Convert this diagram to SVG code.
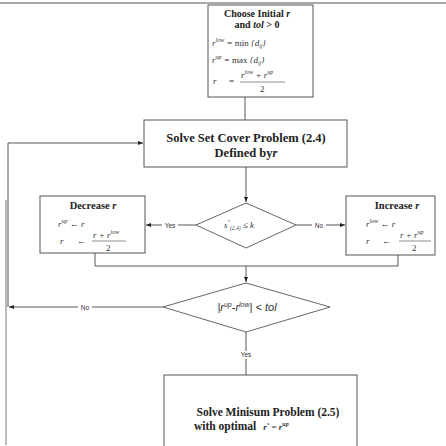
<svg xmlns="http://www.w3.org/2000/svg" width="446" height="446" viewBox="0 0 446 446">
<style>
.box{fill:#fff;stroke:#555;stroke-width:1}
.ln{fill:none;stroke:#444;stroke-width:0.9}
.t{font-family:"Liberation Serif",serif;fill:#222;font-weight:bold}
.i{font-style:italic}
.m{font-family:"Liberation Serif",serif;font-size:9px;font-style:italic;fill:#333}
.n{font-family:"Liberation Serif",serif;font-size:9px;fill:#333}
.s{font-family:"Liberation Sans",sans-serif;font-size:6.5px;fill:#333}
</style>
<defs>
<marker id="ah" markerWidth="6" markerHeight="6" refX="5" refY="3" orient="auto" markerUnits="userSpaceOnUse">
<path d="M0,1 L5,3 L0,5 Z" fill="#222"/>
</marker>
</defs>
<rect width="446" height="446" fill="#fff"/>
<line x1="0" y1="3" x2="446" y2="3" stroke="#555" stroke-width="1.2"/>
<line x1="6" y1="200" x2="6" y2="445" stroke="#bbb" stroke-width="2"/>

<g id="connectors">
<line class="ln" x1="245" y1="97" x2="245" y2="120"/>
<polyline class="ln" points="8,307 8,143 143,143" marker-end="url(#ah)"/>
<line class="ln" x1="246" y1="167" x2="246" y2="202" marker-end="url(#ah)"/>
<line class="ln" x1="196" y1="225" x2="146" y2="225" marker-end="url(#ah)"/>
<line class="ln" x1="296" y1="225" x2="345" y2="225" marker-end="url(#ah)"/>
<polyline class="ln" points="95,253 95,266 398,266 398,255"/>
<line class="ln" x1="246" y1="266" x2="246" y2="282" marker-end="url(#ah)"/>
<line class="ln" x1="163" y1="307" x2="9" y2="307" marker-end="url(#ah)"/>
<line class="ln" x1="246" y1="332" x2="246" y2="375"/>
<rect x="162" y="222" width="16" height="8" fill="#fff"/>
<text class="s" x="170" y="228" text-anchor="middle">Yes</text>
<rect x="312" y="222" width="14" height="8" fill="#fff"/>
<text class="s" x="319" y="228" text-anchor="middle">No</text>
<rect x="78" y="304" width="14" height="8" fill="#fff"/>
<text class="s" x="85" y="310" text-anchor="middle">No</text>
<rect x="237" y="351" width="18" height="8" fill="#fff"/>
<text class="s" x="246" y="357" text-anchor="middle">Yes</text>
</g>

<g id="init">
<rect class="box" x="208" y="5" width="105" height="92"/>
<text class="t" x="257" y="17" text-anchor="middle" style="font-size:10px">Choose Initial <tspan class="i">r</tspan></text>
<text class="t" x="257" y="28" text-anchor="middle" style="font-size:10px">and <tspan class="i">tol</tspan> &gt; 0</text>
<text class="m" x="212" y="46"><tspan>r</tspan><tspan font-size="6" dy="-4">low</tspan><tspan dy="4"> = </tspan><tspan font-style="normal">min</tspan><tspan> {</tspan><tspan>d</tspan><tspan font-size="5.5" dy="2">ij</tspan><tspan dy="-2">}</tspan></text>
<text class="m" x="212" y="63"><tspan>r</tspan><tspan font-size="6" dy="-4">up</tspan><tspan dy="4"> = </tspan><tspan font-style="normal">max</tspan><tspan> {</tspan><tspan>d</tspan><tspan font-size="5.5" dy="2">ij</tspan><tspan dy="-2">}</tspan></text>
<text class="m" x="213" y="84">r</text>
<text class="n" x="229" y="84">=</text>
<line x1="240" y1="82" x2="285" y2="82" stroke="#444" stroke-width="0.6"/>
<text class="m" x="241" y="78">r<tspan font-size="6" dy="-4">low</tspan><tspan dy="4"> + r</tspan><tspan font-size="6" dy="-4">up</tspan></text>
<text class="n" x="260" y="92">2</text>
</g>

<g id="setcover">
<rect class="box" x="144" y="120" width="203" height="47"/>
<text class="t" x="246" y="142" text-anchor="middle" style="font-size:12.5px">Solve Set Cover Problem (2.4)</text>
<text class="t" x="246" y="157" text-anchor="middle" style="font-size:12.5px">Defined by<tspan class="i">r</tspan></text>
</g>

<g id="dec1">
<polygon points="246,203 296,225 246,248 196,225" fill="#fff" stroke="#555" stroke-width="0.9"/>
<text class="m" x="224" y="228">s<tspan font-size="5" dy="-5">*</tspan><tspan font-size="5.5" dy="7">(2.4)</tspan><tspan dy="-2" font-size="9"> ≤ k</tspan></text>
</g>

<g id="decrease">
<rect class="box" x="40" y="196" width="105" height="57"/>
<text class="t" x="93" y="209" text-anchor="middle" style="font-size:10.5px">Decrease <tspan class="i">r</tspan></text>
<text class="m" x="58" y="227">r<tspan font-size="6" dy="-4">up</tspan><tspan dy="4">  ←  r</tspan></text>
<text class="m" x="60" y="244">r</text>
<text class="n" x="77" y="244">←</text>
<line x1="92" y1="241" x2="126" y2="241" stroke="#444" stroke-width="0.6"/>
<text class="m" x="93" y="238">r + r<tspan font-size="6" dy="-4">low</tspan></text>
<text class="n" x="106" y="251">2</text>
</g>

<g id="increase">
<rect class="box" x="346" y="196" width="89" height="59"/>
<text class="t" x="397" y="209" text-anchor="middle" style="font-size:10.5px">Increase <tspan class="i">r</tspan></text>
<text class="m" x="366" y="227">r<tspan font-size="6" dy="-4">low</tspan><tspan dy="4">  ←  r</tspan></text>
<text class="m" x="366" y="244">r</text>
<text class="n" x="382" y="244">←</text>
<line x1="399" y1="241" x2="431" y2="241" stroke="#444" stroke-width="0.6"/>
<text class="m" x="400" y="238">r + r<tspan font-size="6" dy="-4">up</tspan></text>
<text class="n" x="412" y="251">2</text>
</g>

<g id="dec2">
<polygon points="246,283 330,307 246,332 163,307" fill="#fff" stroke="#555" stroke-width="0.9"/>
<text x="247" y="311" text-anchor="middle" font-family="Liberation Sans,sans-serif" font-size="11" font-style="italic" fill="#333">|r<tspan font-size="7" dy="-4">up</tspan><tspan dy="4">-r</tspan><tspan font-size="7" dy="-4">low</tspan><tspan dy="4">| &lt; tol</tspan></text>
</g>

<g id="minisum">
<rect class="box" x="164" y="375" width="193" height="75"/>
<text class="t" x="268" y="416" text-anchor="middle" style="font-size:11.5px">Solve Minisum Problem (2.5)</text>
<text class="t" x="194" y="430" style="font-size:11.5px">with optimal <tspan class="m" dx="4">r<tspan font-size="5" dy="-4">*</tspan><tspan dy="4"> = r</tspan><tspan font-size="6" dy="-4">up</tspan></tspan></text>
</g>
</svg>
